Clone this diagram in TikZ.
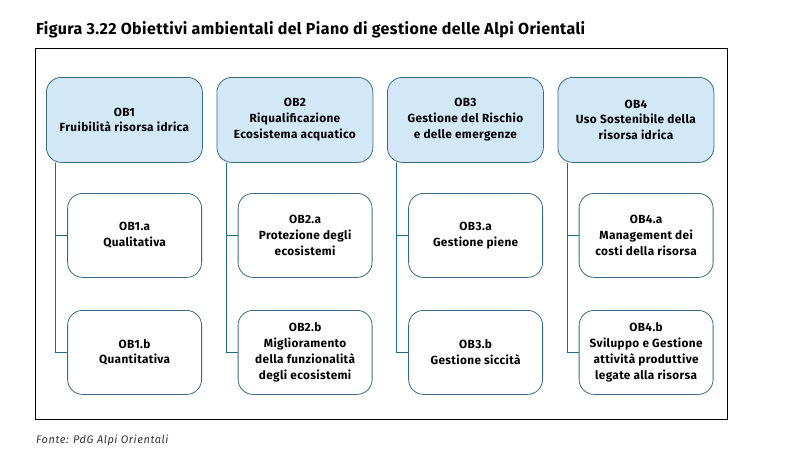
\documentclass[tikz,border=0pt]{standalone}
\usepackage{fontspec}
\setmainfont{Fira Sans}
\newfontfamily\boxfont[LetterSpace=3]{Fira Sans}
\newfontfamily\titlefont[LetterSpace=2.5]{Fira Sans}
\newfontfamily\footfont[LetterSpace=5]{Fira Sans}
\usetikzlibrary{calc}
\begin{document}
\begin{tikzpicture}[x=1pt,y=-1pt,
  topbox/.style={draw=boxline, fill=boxfill, line width=0.8pt, rounded corners=15pt,
    minimum width=156pt, minimum height=85pt, inner sep=0pt, align=center,
    font=\boxfont\fontsize{11.8}{15.8}\selectfont\bfseries},
  subbox/.style={draw=boxline, fill=white, line width=0.8pt, rounded corners=15pt,
    minimum width=134pt, minimum height=84pt, inner sep=0pt, align=center,
    font=\boxfont\fontsize{11.8}{15.8}\selectfont\bfseries},
  conn/.style={draw=connline, line width=0.9pt}]
\definecolor{boxline}{HTML}{3B6B80}
\definecolor{boxfill}{HTML}{D3E8F6}
\definecolor{connline}{HTML}{1F6A85}
\definecolor{foot}{HTML}{333333}
\useasboundingbox (0,0) rectangle (793,453);
\node[anchor=base west, inner sep=0pt, font=\titlefont\fontsize{16}{18}\selectfont\bfseries] (title) at (36,34) {Figura 3.22 Obiettivi ambientali del Piano di gestione delle Alpi Orientali};
\node[draw=black, line width=0.9pt, minimum width=692pt, minimum height=371pt, inner sep=0pt, anchor=north west] (frame) at (35,48) {};
\node[anchor=base west, inner sep=0pt, text=foot, font=\footfont\fontsize{11}{12}\selectfont\itshape] (src) at (36,443) {Fonte: PdG Alpi Orientali};

\foreach \n/\lx/\ttxt/\atxt/\btxt in {
  1/46/{OB1\\Fruibilità risorsa idrica}/{OB1.a\\Qualitativa}/{OB1.b\\Quantitativa},
  2/216.5/{OB2\\Riqualificazione\\Ecosistema acquatico}/{OB2.a\\Protezione degli\\ecosistemi}/{OB2.b\\Miglioramento\\della funzionalità\\degli ecosistemi},
  3/387/{OB3\\Gestione del Rischio\\e delle emergenze}/{OB3.a\\Gestione piene}/{OB3.b\\Gestione siccità},
  4/557.5/{OB4\\Uso Sostenibile della\\risorsa idrica}/{OB4.a\\Management dei\\costi della risorsa}/{OB4.b\\Sviluppo e Gestione\\attività produttive\\legate alla risorsa}} {
  \node[topbox, anchor=north west] (ob\n) at (\lx,77) {\ttxt};
  \node[subbox, anchor=north east] (ob\n a) at ($(\lx,193)+(156,0)$) {\atxt};
  \node[subbox, anchor=north east] (ob\n b) at ($(\lx,310)+(156,0)$) {\btxt};
  \draw[conn] ([xshift=9.5pt]ob\n.south west) |- (ob\n a.west);
  \draw[conn] ([xshift=9.5pt]ob\n.south west) |- (ob\n b.west);
}
\end{tikzpicture}
\end{document}
